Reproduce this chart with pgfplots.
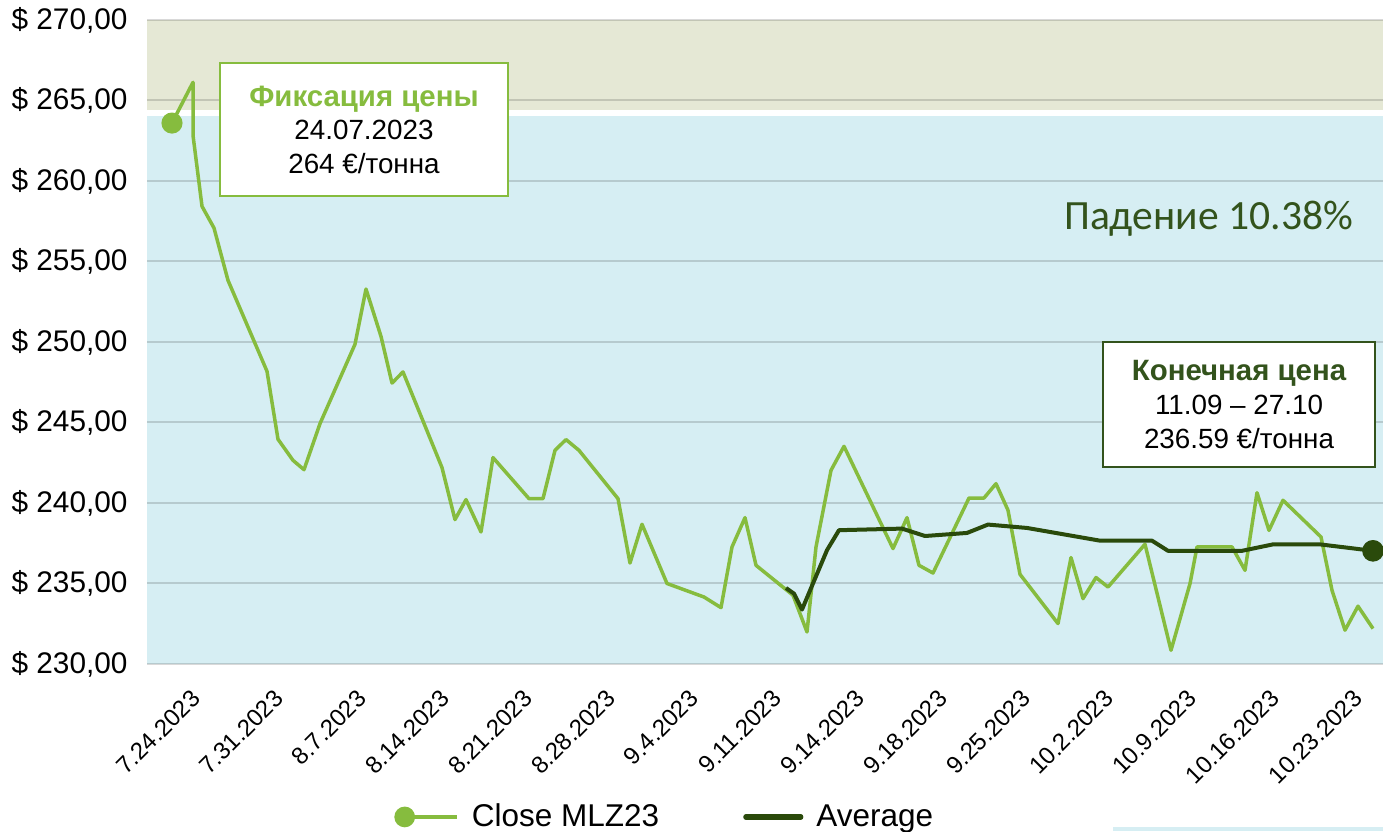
\documentclass[border=0pt]{standalone}
\usepackage{fontspec}
\setmainfont{Liberation Sans}
\newfontfamily\carlito{Carlito}
\usepackage{pgfplots}
\pgfplotsset{compat=1.18}
\definecolor{cGreen}{HTML}{86BC3E}
\definecolor{cDark}{HTML}{2A4A0B}
\definecolor{cText}{HTML}{33531C}
\definecolor{cBlue}{HTML}{D6EEF3}
\definecolor{cOlive}{HTML}{E5E8D5}
\begin{document}
\begin{tikzpicture}
\fill[cBlue] (556.5pt,0pt) rectangle (691.5pt,2pt);
\begin{axis}[
  at={(73.5pt,83.5pt)}, anchor=south west,
  scale only axis, width=618pt, height=322pt,
  xmin=147, xmax=1383, ymin=230, ymax=270,
  set layers,
  axis line style={draw=none},
  major tick length=0pt,
  ytick={230,235,240,245,250,255,260,265,270},
  yticklabels={{\$ 230,00},{\$ 235,00},{\$ 240,00},{\$ 245,00},{\$ 250,00},{\$ 255,00},{\$ 260,00},{\$ 265,00},{\$ 270,00}},
  yticklabel style={anchor=east, inner sep=0pt, font=\fontsize{14.9}{17}\selectfont},
  yticklabel shift=9.5pt,
  xtick={190,273,356,439,522,605,688,771,854,937,1020,1103,1186,1269,1352},
  xticklabels={7.24.2023,7.31.2023,8.7.2023,8.14.2023,8.21.2023,8.28.2023,9.4.2023,9.11.2023,9.14.2023,9.18.2023,9.25.2023,10.2.2023,10.9.2023,10.16.2023,10.23.2023},
  xticklabel style={rotate=45, anchor=north east, inner sep=0pt, font=\fontsize{12}{14}\selectfont},
  xticklabel shift=12pt,
  ymajorgrids,
  grid style={black, opacity=0.15, line width=1pt},
  legend style={at={(0.1998,-0.2375)}, anchor=west, draw=none, fill=none, inner sep=0pt,
    font=\fontsize{15.75}{18}\selectfont, nodes={inner sep=0pt},
    /tikz/every odd column/.append style={column sep=6.5pt},
    /tikz/every even column/.append style={column sep=42pt}},
  legend columns=2,
]
\begin{pgfonlayer}{axis background}
\fill[cOlive] (axis cs:147,264.4) rectangle (axis cs:1383,270);
\fill[cBlue] (axis cs:147,230) rectangle (axis cs:1383,264.03);
\end{pgfonlayer}
\addplot[cGreen, line width=1.75pt, line join=round, mark=*, mark indices={1},
  mark options={solid, fill=cGreen, draw=cGreen, scale=1}, mark size=4.4pt,
  legend image code/.code={\draw[cGreen, line width=2.2pt] (4.5pt,0) -- (30.5pt,0); \fill[cGreen] (4.5pt,0) circle (4.3pt);}]
coordinates {
(172,263.60) (193,266.13) (193,262.84) (202,258.43) (214,257.08) (228,253.83)
(267,248.18) (278,243.96) (293,242.65) (304,242.07) (320,244.93) (355,249.86)
(366,253.29) (381,250.35) (392,247.45) (403,248.14) (442,242.20) (455,238.97)
(466,240.21) (481,238.20) (493,242.82) (529,240.27) (543,240.27) (555,243.27)
(566,243.94) (579,243.27) (618,240.27) (630,236.27) (642,238.68) (667,235.00)
(704,234.16) (721,233.50) (732,237.27) (745,239.09) (756,236.13) (793,234.27)
(807,231.99) (816,237.27) (831,242.03) (844,243.52) (893,237.17) (907,239.09)
(919,236.13) (933,235.65) (969,240.31) (984,240.31) (996,241.20) (1008,239.55)
(1020,235.57) (1058,232.51) (1071,236.61) (1083,234.06) (1096,235.37) (1108,234.78)
(1145,237.44) (1171,230.85) (1190,234.99) (1197,237.27) (1232,237.27) (1245,235.82)
(1257,240.64) (1269,238.30) (1283,240.17) (1321,237.89) (1332,234.58) (1345,232.10)
(1358,233.59) (1373,232.20)
};
\addlegendentry{Close MLZ23}
\addplot[cDark, line width=2pt, line join=round, mark=*, mark indices={17},
  mark options={solid, fill=cDark, draw=cDark}, mark size=4.4pt,
  legend image code/.code={\draw[cDark, line width=2.6pt, line cap=round] (0,0) -- (27.5pt,0);}]
coordinates {
(786,234.72) (794,234.37) (802,233.38) (827,237.07) (839,238.31) (902,238.41)
(925,237.95) (967,238.14) (988,238.66) (1027,238.45) (1100,237.66) (1152,237.66)
(1168,237.03) (1242,237.03) (1273,237.43) (1320,237.43) (1373,237.03)
};
\addlegendentry{Average}
\node[draw=cGreen, line width=1pt, fill=white, minimum width=144pt, minimum height=66.5pt,
  align=center, inner sep=0pt, font=\fontsize{13.9}{16.75}\selectfont]
  at (axis cs:364,263.18) {{\fontsize{14.7}{16.75}\selectfont\bfseries\color{cGreen}Фиксация цены}\\24.07.2023\\264 €/тонна};
\node[draw=cText, line width=1pt, fill=white, minimum width=136pt, minimum height=62.5pt,
  align=center, inner sep=0pt, font=\fontsize{13.9}{17}\selectfont]
  at (axis cs:1239,246.10) {{\fontsize{14.7}{17}\selectfont\bfseries\color{cText}Конечная цена}\\11.09 – 27.10\\236.59 €/тонна};
\node[font=\carlito\fontsize{20.8}{24}\selectfont, text=cText, inner sep=0pt]
  at (axis cs:1208.5,257.68) {Падение 10.38\%};
\end{axis}
\pgfresetboundingbox
\path (0pt,0pt) rectangle (691.5pt,415.5pt);
\end{tikzpicture}
\end{document}
